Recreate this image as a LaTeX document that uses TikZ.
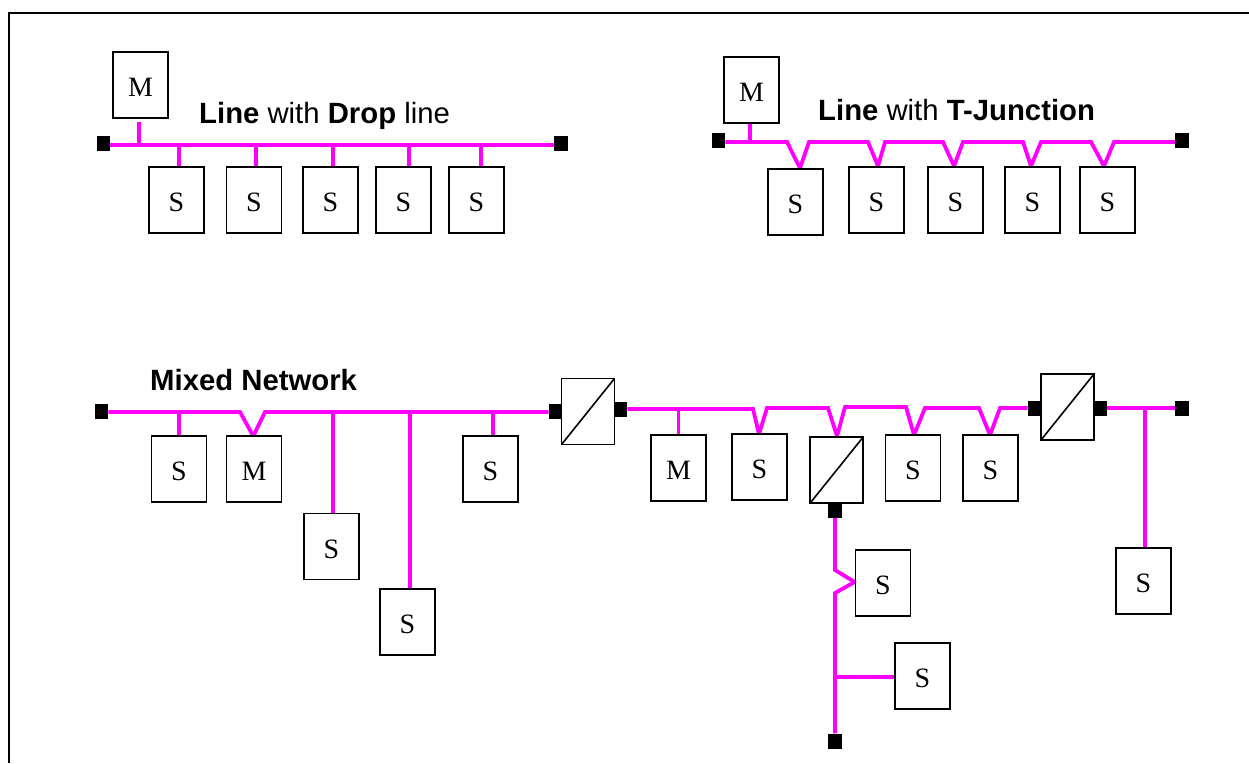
\documentclass[tikz,border=0pt]{standalone}
\usepackage{fontspec}
\usetikzlibrary{calc,backgrounds}
\setmainfont{Liberation Serif}
\newfontfamily\labfont{Liberation Sans}
\definecolor{bus}{RGB}{255,0,255}
\tikzset{
  unitbox/.style={draw=black,fill=white,line width=1.8pt,rectangle,minimum width=55pt,minimum height=66pt,inner sep=0pt,
    font=\fontsize{28}{28}\selectfont,text height=23pt,text depth=0pt},
  convbox/.style={draw=black,fill=white,line width=1.8pt,rectangle,minimum width=53pt,minimum height=66pt,inner sep=0pt,
    path picture={\draw[line width=1.6pt] (path picture bounding box.south west) -- (path picture bounding box.north east);}},
  term/.style={fill=black,rectangle,minimum width=13.5pt,minimum height=15pt,inner sep=0pt},
  busline/.style={draw=bus,line width=3.8pt,line join=miter},
  heading/.style={anchor=base west,inner sep=0pt,font=\labfont\fontsize{29.3}{29.3}\selectfont},
  frameline/.style={draw=black,line width=2pt}
}
\begin{document}
\begin{tikzpicture}[x=1pt,y=-1pt]
\useasboundingbox (0,0) rectangle (1249,763);
\coordinate (fa) at (9,763); \coordinate (fb) at (9,13);
\coordinate (fc) at (1249,13);
\draw[frameline] (fa) -- (fb) -- (fc);

% --- Line with Drop line
\node[unitbox] (am) at (140.5,85) {M};
\node[unitbox] (a1) at (176.5,200) {S};
\node[unitbox] (a2) at (254,200) {S};
\node[unitbox] (a3) at (330.5,200) {S};
\node[unitbox] (a4) at (403.5,200) {S};
\node[unitbox] (a5) at (476.5,200) {S};
\node[term] (at1) at (103.5,143) {};
\node[term] (at2) at (561,143) {};
\node[heading] (ah) at (199,123) {\textbf{Line} with \textbf{Drop} line};

% --- Line with T-Junction
\node[unitbox] (bm) at (751.5,90) {M};
\node[unitbox] (b1) at (795.5,202) {S};
\node[unitbox] (b2) at (876.5,200) {S};
\node[unitbox] (b3) at (955.5,200) {S};
\node[unitbox] (b4) at (1032.5,200) {S};
\node[unitbox] (b5) at (1107.5,200) {S};
\node[term] (bt1) at (718.5,140) {};
\node[term] (bt2) at (1182,140) {};
\node[heading] (bh) at (818,120.3) {\textbf{Line} with \textbf{T-Junction}};

% --- Mixed Network
\node[heading] (ch) at (150,390.5) {\textbf{Mixed Network}};
\node[unitbox] (c1) at (179,469) {S};
\node[unitbox] (c2) at (254,469) {M};
\node[unitbox] (c3) at (331.5,546.5) {S};
\node[unitbox] (c4) at (407.5,622) {S};
\node[unitbox] (c5) at (490.5,469) {S};
\node[term] (ct1) at (101.5,411) {};
\node[term] (ct2) at (555.5,411.5) {};
\node[convbox] (k1) at (588,411.5) {};
\node[term] (ct3) at (620.5,409) {};

\node[unitbox] (d1) at (678.5,468) {M};
\node[unitbox] (d2) at (759.5,467) {S};
\node[convbox] (k2) at (836.7,470) {};
\node[unitbox] (d3) at (913,468) {S};
\node[unitbox] (d4) at (990.5,468) {S};
\node[term] (dt1) at (1034.5,408) {};
\node[convbox] (k3) at (1067.5,407) {};
\node[term] (dt2) at (1100,408) {};
\node[term] (dt3) at (1182,408) {};

\node[unitbox] (e0) at (1143.5,581) {S};
\node[term] (et1) at (835,510) {};
\node[term] (et2) at (835,741) {};
\node[unitbox] (e1) at (883,583) {S};
\node[unitbox] (e2) at (922.5,676) {S};
\coordinate (ej) at (835,677);

\begin{scope}[on background layer]
\draw[busline] (at1.east) ++(0,2) -- ($(at2.west)+(0,2)$);
\draw[busline] (am.south) ++(-1.5,3) -- ++(0,24);
\draw[busline] (a1.north) ++(2.5,0) -- ++(0,-22);
\draw[busline] (a2.north) ++(2,0) -- ++(0,-22);
\draw[busline] (a3.north) ++(2.5,0) -- ++(0,-22);
\draw[busline] (a4.north) ++(5.5,0) -- ++(0,-22);
\draw[busline] (a5.north) ++(4.5,0) -- ++(0,-22);

\draw[busline] (bm.south) ++(-1.5,0) -- ++(0,20);
\draw[busline] (bt1.east) ++(0,2)
  -- (787,142) -- ($(b1.north)+(4.5,0)$) -- (809,142)
  -- (868,142) -- ($(b2.north)+(1.5,0)$) -- (885,142)
  -- (943,142) -- ($(b3.north)+(-1.5,0)$) -- (963,142)
  -- (1023,142) -- ($(b4.north)+(-1.5,0)$) -- (1041,142)
  -- (1091,142) -- ($(b5.north)+(-3.5,0)$) -- (1114,142)
  -- ($(bt2.west)+(0,2)$);

\draw[busline] (ct1.east) ++(0,1)
  -- (240,412) -- ($(c2.north)+(-0.7,1)$) -- (265,412) -- ($(ct2.west)+(0,0.5)$);
\draw[busline] (c1.north) -- ++(0,-24);
\draw[busline] (c3.north) ++(1.5,0) -- ++(0,-101);
\draw[busline] (c4.north) ++(2.5,0) -- ++(0,-177);
\draw[busline] (c5.north) ++(2.5,0) -- ++(0,-24);

\draw[busline] (ct3.east)
  -- (753,409) -- ($(d2.north)+(-0.5,1)$) -- (767,408)
  -- (828,408) -- ($(k2.north)+(0.3,0)$) -- (845,407)
  -- (906,407) -- ($(d3.north)+(1,1)$) -- (925,408)
  -- (979,408) -- ($(d4.north)+(-0.5,1)$) -- (1000,408)
  -- (dt1.west);
\draw[busline] (d1.north) -- ++(0,-26);
\draw[busline] (dt2.east) -- (dt3.west);
\draw[busline] (e0.north) ++(1.5,0) -- ++(0,-140);

\draw[busline] (et1.south) -- (835,570) -- ($(e1.west)+(0,-1)$) -- (835,593) -- (et2.north);
\draw[busline] (ej) -- (e2.west |- ej);
\end{scope}
\end{tikzpicture}
\end{document}
